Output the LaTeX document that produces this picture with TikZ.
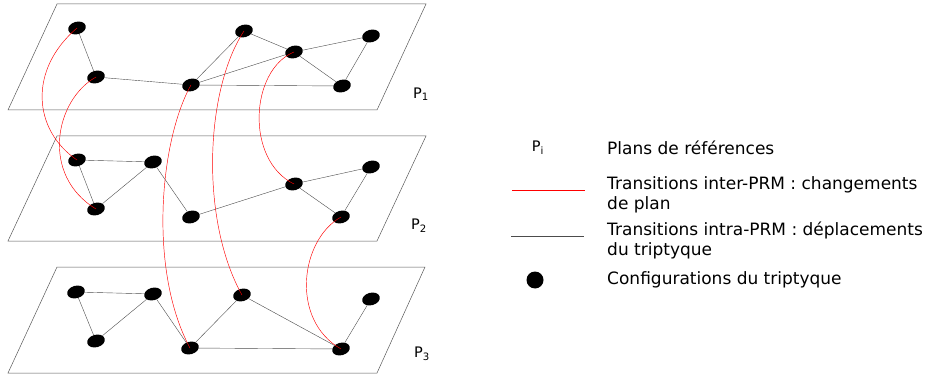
\documentclass[tikz,border=0pt]{standalone}
\usepackage{fontspec}
\setmainfont{DejaVu Sans}
\usepackage{tikz}
\usetikzlibrary{shapes.geometric}
\tikzset{
        conf/.style={ellipse, fill=black, minimum width=18pt, minimum height=12.5pt,
                     inner sep=0pt, outer sep=0pt, rotate=15},
        intra/.style={draw=black!70, line width=0.4pt},
        inter/.style={draw=red, line width=0.45pt},
        plane/.style={draw=black!65, line width=0.5pt},
        plab/.style={font=\fontsize{14.5}{16}\selectfont},
        leg/.style={anchor=west, align=left, inner sep=0pt,
                    font=\fontsize{17}{20}\selectfont},
 }

\begin{document}
\begin{tikzpicture}[x=1pt, y=-1pt]
    \useasboundingbox (0,0) rectangle (928,374);

    \draw[plane] (57,4) -- (426,4) -- (377,110) -- (8,110) -- cycle;
    \draw[plane] (57,136) -- (426,136) -- (377,241) -- (8,241) -- cycle;
    \draw[plane] (57,267) -- (425,267) -- (377,373) -- (8,373) -- cycle;
    \node[plab] (p1) at (421,94) {P\textsubscript{1}};
    \node[plab] (p2) at (419,226) {P\textsubscript{2}};
    \node[plab] (p3) at (422,354) {P\textsubscript{3}};

    \node[conf] (a1) at (77,28) {};
    \node[conf] (a2) at (96,77) {};
    \node[conf] (a3) at (191,85) {};
    \node[conf] (a4) at (244,31) {};
    \node[conf] (a5) at (294,52) {};
    \node[conf] (a6) at (371,36) {};
    \node[conf] (a7) at (342,86) {};

    \node[conf] (b1) at (77,160) {};
    \node[conf] (b2) at (153,162) {};
    \node[conf] (b3) at (96,209) {};
    \node[conf] (b4) at (191,217) {};
    \node[conf] (b5) at (294,184) {};
    \node[conf] (b6) at (371,167) {};
    \node[conf] (b7) at (341,217) {};

    \node[conf] (c1) at (76,292) {};
    \node[conf] (c2) at (153,294) {};
    \node[conf] (c3) at (96,341) {};
    \node[conf] (c4) at (190,348) {};
    \node[conf] (c5) at (242,295) {};
    \node[conf] (c6) at (371,299) {};
    \node[conf] (c7) at (341,349) {};

    \draw[intra] (a1) -- (a2);
    \draw[intra] (a2) -- (a3);
    \draw[intra] (a3) -- (a4);
    \draw[intra] (a3) -- (a5);
    \draw[intra] (a3) -- (a7);
    \draw[intra] (a4) -- (a5);
    \draw[intra] (a5) -- (a6);
    \draw[intra] (a5) -- (a7);
    \draw[intra] (a6) -- (a7);

    \draw[intra] (b1) -- (b2);
    \draw[intra] (b1) -- (b3);
    \draw[intra] (b3) -- (b2);
    \draw[intra] (b2) -- (b4);
    \draw[intra] (b4) -- (b5);
    \draw[intra] (b5) -- (b6);
    \draw[intra] (b5) -- (b7);
    \draw[intra] (b7) -- (b6);

    \draw[intra] (c1) -- (c2);
    \draw[intra] (c1) -- (c3);
    \draw[intra] (c3) -- (c2);
    \draw[intra] (c2) -- (c4);
    \draw[intra] (c4) -- (c5);
    \draw[intra] (c4) -- (c7);
    \draw[intra] (c5) -- (c7);
    \draw[intra] (c6) -- (c7);

    \draw[inter] (a1.center) .. controls (28,70) and (33,130) .. (b1.center);
    \draw[inter] (a2.center) .. controls (55,100) and (40,175) .. (b3.center);
    \draw[inter] (a3.center) .. controls (160,140) and (148,270) .. (c4.center);
    \draw[inter] (a4.center) .. controls (205,90) and (200,220) .. (c5.center);
    \draw[inter] (a5.center) .. controls (250,70) and (245,160) .. (b5.center);
    \draw[inter] (b7.center) .. controls (300,240) and (290,320) .. (c7.center);

    \node[plab] (pi) at (538,148) {P\textsubscript{i}};
    \coordinate (r0) at (512,190);
    \coordinate (r1) at (585,190);
    \coordinate (g0) at (511,236);
    \coordinate (g1) at (584,236);
    \draw[inter] (r0) -- (r1);
    \draw[intra] (g0) -- (g1);
    \node[circle, fill=black, minimum size=17pt, inner sep=0pt] (dot) at (535,280) {};

    \node[leg] (t1) at (607,148) {Plans de références};
    \node[leg] (t2) at (607,194.5) {Transitions inter-PRM : changements\\de plan};
    \node[leg] (t3) at (607,240) {Transitions intra-PRM : déplacements\\du triptyque};
    \node[leg] (t4) at (607,280) {Configurations du triptyque};
\end{tikzpicture}
\end{document}
